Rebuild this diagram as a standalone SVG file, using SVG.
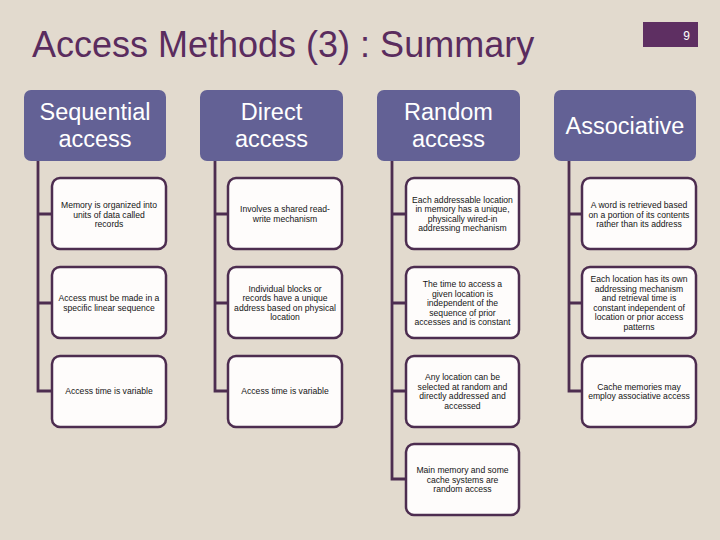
<svg xmlns="http://www.w3.org/2000/svg" width="720" height="540" viewBox="0 0 720 540">
<style>
.hdr{fill:#636195}
.ht{font-family:"Liberation Sans",Arial,sans-serif;font-size:23.5px;fill:#ffffff;text-anchor:middle}
.box{fill:#fefcfb;stroke:#4d2d50;stroke-width:2.5}
.ct{font-family:"Liberation Sans",Arial,sans-serif;font-size:8.6px;fill:#151515;text-anchor:middle}
.conn{fill:none;stroke:#4d2d50;stroke-width:2.8}
</style>
<rect width="720" height="540" fill="#e2dace"/>
<text x="32" y="57" font-family="Liberation Sans,Arial,sans-serif" font-size="36" fill="#5a2c5e">Access Methods (3) : Summary</text>
<rect x="643" y="22" width="55" height="25" fill="#5e2f62"/>
<text x="690" y="40" font-family="Liberation Sans,Arial,sans-serif" font-size="12" fill="#ffffff" text-anchor="end">9</text>

<g id="connectors">
<path class="conn" d="M38 161 V391 H52 M38 214 H52 M38 303 H52"/>
<path class="conn" d="M215 161 V391 H228 M215 214 H228 M215 303 H228"/>
<path class="conn" d="M392 161 V479 H406 M392 214 H406 M392 303 H406 M392 391 H406"/>
<path class="conn" d="M569 161 V391 H582 M569 214 H582 M569 303 H582"/>
</g>

<g id="h-seq"><rect class="hdr" x="24" y="90" width="142" height="71" rx="7"/>
<text class="ht" x="95" y="120">Sequential</text><text class="ht" x="95" y="147">access</text></g>
<g id="h-dir"><rect class="hdr" x="200" y="90" width="143" height="71" rx="7"/>
<text class="ht" x="271.5" y="120">Direct</text><text class="ht" x="271.5" y="147">access</text></g>
<g id="h-ran"><rect class="hdr" x="377" y="90" width="143" height="71" rx="7"/>
<text class="ht" x="448.5" y="120">Random</text><text class="ht" x="448.5" y="147">access</text></g>
<g id="h-ass"><rect class="hdr" x="554" y="90" width="142" height="71" rx="7"/>
<text class="ht" x="625" y="134">Associative</text></g>

<g id="s1"><rect class="box" x="52" y="178" width="114" height="71" rx="8"/>
<text class="ct" x="109" y="208">Memory is organized into</text><text class="ct" x="109" y="217.5">units of data called</text><text class="ct" x="109" y="227">records</text></g>
<g id="s2"><rect class="box" x="52" y="267" width="114" height="71" rx="8"/>
<text class="ct" x="109" y="301">Access must be made in a</text><text class="ct" x="109" y="310.5">specific linear sequence</text></g>
<g id="s3"><rect class="box" x="52" y="356" width="114" height="71" rx="8"/>
<text class="ct" x="109" y="394">Access time is variable</text></g>

<g id="d1"><rect class="box" x="228" y="178" width="114" height="71" rx="8"/>
<text class="ct" x="285" y="212">Involves a shared read-</text><text class="ct" x="285" y="221.5">write mechanism</text></g>
<g id="d2"><rect class="box" x="228" y="267" width="114" height="71" rx="8"/>
<text class="ct" x="285" y="291.5">Individual blocks or</text><text class="ct" x="285" y="301">records have a unique</text><text class="ct" x="285" y="310.5">address based on physical</text><text class="ct" x="285" y="320">location</text></g>
<g id="d3"><rect class="box" x="228" y="356" width="114" height="71" rx="8"/>
<text class="ct" x="285" y="394">Access time is variable</text></g>

<g id="r1"><rect class="box" x="406" y="178" width="113" height="71" rx="8"/>
<text class="ct" x="462.5" y="202.5">Each addressable location</text><text class="ct" x="462.5" y="212">in memory has a unique,</text><text class="ct" x="462.5" y="221.5">physically wired-in</text><text class="ct" x="462.5" y="231">addressing mechanism</text></g>
<g id="r2"><rect class="box" x="406" y="267" width="113" height="71" rx="8"/>
<text class="ct" x="462.5" y="287">The time to access a</text><text class="ct" x="462.5" y="296.5">given location is</text><text class="ct" x="462.5" y="306">independent of the</text><text class="ct" x="462.5" y="315.5">sequence of prior</text><text class="ct" x="462.5" y="325">accesses and is constant</text></g>
<g id="r3"><rect class="box" x="406" y="356" width="113" height="71" rx="8"/>
<text class="ct" x="462.5" y="380">Any location can be</text><text class="ct" x="462.5" y="389.5">selected at random and</text><text class="ct" x="462.5" y="399">directly addressed and</text><text class="ct" x="462.5" y="408.5">accessed</text></g>
<g id="r4"><rect class="box" x="406" y="444" width="113" height="71" rx="8"/>
<text class="ct" x="462.5" y="473">Main memory and some</text><text class="ct" x="462.5" y="482.5">cache systems are</text><text class="ct" x="462.5" y="492">random access</text></g>

<g id="a1"><rect class="box" x="582" y="178" width="114" height="71" rx="8"/>
<text class="ct" x="639" y="208">A word is retrieved based</text><text class="ct" x="639" y="217.5">on a portion of its contents</text><text class="ct" x="639" y="227">rather than its address</text></g>
<g id="a2"><rect class="box" x="582" y="267" width="114" height="71" rx="8"/>
<text class="ct" x="639" y="282">Each location has its own</text><text class="ct" x="639" y="291.5">addressing mechanism</text><text class="ct" x="639" y="301">and retrieval time is</text><text class="ct" x="639" y="310.5">constant independent of</text><text class="ct" x="639" y="320">location or prior access</text><text class="ct" x="639" y="329.5">patterns</text></g>
<g id="a3"><rect class="box" x="582" y="356" width="114" height="71" rx="8"/>
<text class="ct" x="639" y="389.5">Cache memories may</text><text class="ct" x="639" y="399">employ associative access</text></g>
</svg>
